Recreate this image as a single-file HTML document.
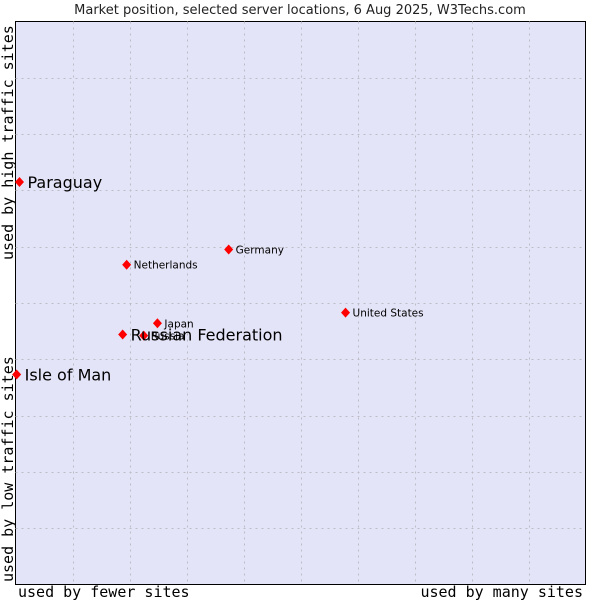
<!DOCTYPE html>
<html><head><meta charset="utf-8"><style>
body{margin:0;background:#fff;}
svg{display:block;}
</style></head><body>
<svg id="chart" width="600" height="600" xmlns="http://www.w3.org/2000/svg">
<text x="300" y="14" text-anchor="middle" font-family="DejaVu Sans, sans-serif" font-size="13" fill="#222">Market position, selected server locations, 6 Aug 2025, W3Techs.com</text>
<rect x="15.5" y="21.5" width="570" height="563" fill="#e4e4f8" stroke="#000" stroke-width="1"/>
<g id="grid"></g>
<g id="points"></g>
<text x="18" y="597" font-family="DejaVu Sans Mono, monospace" font-size="15" fill="#000">used by fewer sites</text>
<text x="583" y="597" text-anchor="end" font-family="DejaVu Sans Mono, monospace" font-size="15" fill="#000">used by many sites</text>
<text transform="translate(13,582) rotate(-90)" font-family="DejaVu Sans Mono, monospace" font-size="15" fill="#000">used by low traffic sites</text>
<text transform="translate(13,260) rotate(-90)" font-family="DejaVu Sans Mono, monospace" font-size="15" fill="#000">used by high traffic sites</text>
</svg>
<script>
const names = ["Paraguay","Isle of Man","Netherlands","Germany","United States","Japan","Russia","Russian Federation"];
const xValues = [0.7,0.2,19.5,37.4,57.9,24.9,22.5,18.8];
const yValues = [71.5,37.3,56.8,59.5,48.3,46.4,44.2,44.4];
const highlighted = [true,true,false,false,false,false,false,true];
const L=15.5,T=21.5,W=570,H=563;
const sx=v=>L+v/100*W, sy=v=>T+H-v/100*H;
const NS="http://www.w3.org/2000/svg";
const grid=document.getElementById('grid');
for(let i=1;i<10;i++){
  const gx=Math.round(L+i*W/10)+0.5;
  const l=document.createElementNS(NS,'line');
  l.setAttribute('x1',gx);l.setAttribute('x2',gx);l.setAttribute('y1',T);l.setAttribute('y2',T+H);
  l.setAttribute('stroke','#bcbcc4');l.setAttribute('stroke-dasharray','2,4');
  
  
  grid.appendChild(l);
  const gy=Math.round(T+i*H/10)+0.5;
  const h=document.createElementNS(NS,'line');
  h.setAttribute('x1',L);h.setAttribute('x2',L+W);h.setAttribute('y1',gy);h.setAttribute('y2',gy);
  h.setAttribute('stroke','#bcbcc4');h.setAttribute('stroke-dasharray','2,4');
  
  
  grid.appendChild(h);
}
const pts=document.getElementById('points');
names.forEach((n,i)=>{
  const x=sx(xValues[i]),y=sy(yValues[i]);
  const d=document.createElementNS(NS,'polygon');
  d.setAttribute('points',`${x},${y-5} ${x+4.5},${y} ${x},${y+5} ${x-4.5},${y}`);
  d.setAttribute('fill','#f00');
  
  
  pts.appendChild(d);
});
names.forEach((n,i)=>{
  const x=sx(xValues[i]),y=sy(yValues[i]);
  const t=document.createElementNS(NS,'text');
  t.setAttribute('x',x+(highlighted[i]?8:7));
  t.setAttribute('y',y+(highlighted[i]?6:4));
  t.setAttribute('font-family','DejaVu Sans, sans-serif');
  t.setAttribute('font-size',highlighted[i]?16:10.5);
  t.setAttribute('fill','#000');
  t.textContent=n;
  
  
  pts.appendChild(t);
});
</script>
</body></html>
